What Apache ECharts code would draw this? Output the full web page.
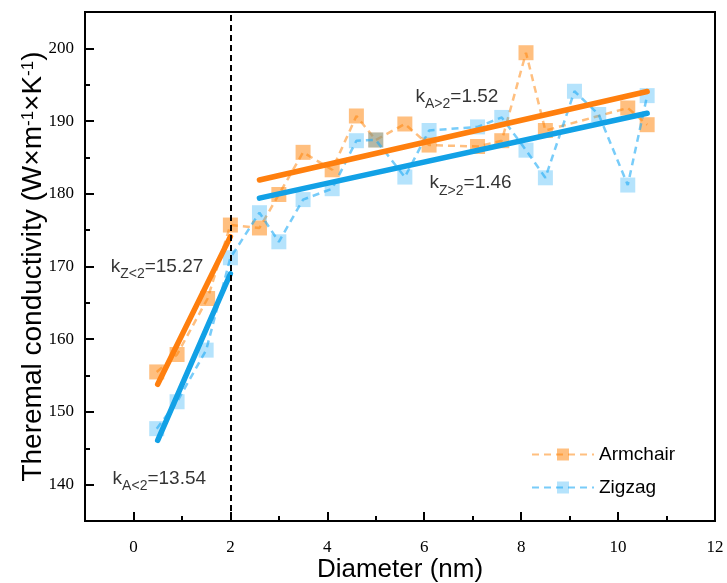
<!DOCTYPE html>
<html>
<head>
<meta charset="utf-8">
<script src="https://cdn.jsdelivr.net/npm/echarts@6/dist/echarts.min.js"></script>
<style>
  html, body { margin: 0; padding: 0; background: #fff; }
  #chart { width: 727px; height: 583px; }
</style>
</head>
<body>
<div id="chart"></div>
<script>
// Thermal conductivity vs. diameter, armchair and zigzag tubes
const armchairX = [0.48, 0.9, 1.53, 2.0, 2.6, 3.0, 3.5, 4.1, 4.6, 5.0, 5.6, 6.1, 7.1, 7.6, 8.1, 8.5, 10.2, 10.6];
const armchairY = [155.5, 157.9, 165.6, 175.7, 175.3, 179.9, 185.7, 183.3, 190.7, 187.4, 189.6, 186.7, 186.5, 187.3, 199.4, 188.7, 191.8, 189.5];

const zigzagX = [0.48, 0.9, 1.5, 2.0, 2.6, 3.0, 3.5, 4.1, 4.6, 5.0, 5.6, 6.1, 7.1, 7.6, 8.1, 8.5, 9.1, 9.6, 10.2, 10.6];
const zigzagY = [147.7, 151.4, 158.5, 171.2, 177.4, 173.4, 179.2, 180.7, 187.3, 187.4, 182.3, 188.7, 189.2, 190.5, 186.0, 182.2, 194.1, 190.9, 181.2, 193.5];

// Linear fits: slope k over each diameter range
const fitSeriesName = ['Armchair', 'Zigzag', 'Armchair', 'Zigzag'];
const fitSub = ['A<2', 'Z<2', 'A>2', 'Z>2'];
const fitSlopes = [13.54, 15.27, 1.52, 1.46];
const fitX0 = [0.5, 0.5, 2.6, 2.6];
const fitX1 = [2.0, 2.0, 10.6, 10.6];
const fitY0 = [153.8, 146.1, 181.9, 179.4];

// Tick values
const xMajor = [0, 2, 4, 6, 8, 10, 12];
const xMinor = [1, 3, 5, 7, 9, 11];
const yMajor = [140, 150, 160, 170, 180, 190, 200];
const yMinor = [145, 155, 165, 175, 185, 195];

// Where each slope note is anchored (data coordinates, left-middle of the text)
const noteX = [-0.43, -0.47, 5.82, 6.11];
const noteY = [140.78, 169.85, 193.34, 181.39];

const boundary = 2;

const ORANGE = '#ff7f0e';
const BLUE = '#12a1e6';
const ORANGE_SOFT = 'rgba(255,128,0,0.5)';
const BLUE_SOFT = 'rgba(30,170,245,0.33)';
const BLUE_LINE = 'rgba(30,170,245,0.6)';

const zip = (xs, ys) => xs.map((x, i) => [x, ys[i]]);

const sans = 'Liberation Sans, Arial, sans-serif';
const serif = 'Liberation Serif, Times New Roman, serif';

const dataSeries = [
  {
    name: 'Armchair', type: 'line', data: zip(armchairX, armchairY),
    symbol: 'rect', symbolSize: 15,
    itemStyle: { color: ORANGE_SOFT },
    lineStyle: { color: ORANGE_SOFT, width: 2.5, type: [7, 5] },
    z: 2
  },
  {
    name: 'Zigzag', type: 'line', data: zip(zigzagX, zigzagY),
    symbol: 'rect', symbolSize: 15,
    itemStyle: { color: BLUE_SOFT },
    lineStyle: { color: BLUE_LINE, width: 2.5, type: [7, 5] },
    z: 3
  }
];

const fitSeries = fitSlopes.map((k, i) => ({
  type: 'line',
  name: 'fit ' + fitSub[i],
  data: [[fitX0[i], fitY0[i]], [fitX1[i], fitY0[i] + k * (fitX1[i] - fitX0[i])]],
  symbol: 'none',
  silent: true,
  lineStyle: { color: fitSeriesName[i] === 'Armchair' ? ORANGE : BLUE, width: 5.5, cap: 'round' },
  z: 4
}));

const noteSeries = {
  type: 'scatter',
  name: 'notes',
  symbolSize: 0,
  silent: true,
  z: 5,
  data: fitSub.map((s, i) => ({ value: [noteX[i], noteY[i]], idx: i })),
  label: {
    show: true,
    position: 'right',
    distance: 0,
    formatter: p => {
      const i = p.data.idx;
      return '{k|k}{s|' + fitSub[i] + '}{k|=' + fitSlopes[i].toFixed(2) + '}';
    },
    rich: {
      k: { fontFamily: sans, fontSize: 19, color: '#000', lineHeight: 20, verticalAlign: 'top' },
      s: { fontFamily: sans, fontSize: 14, color: '#000', lineHeight: 16, verticalAlign: 'top', padding: [10, 0, 0, 0] }
    }
  }
};

const boundarySeries = {
  type: 'line',
  name: 'boundary',
  data: [],
  silent: true,
  markLine: {
    silent: true,
    symbol: 'none',
    label: { show: false },
    lineStyle: { color: '#000', type: [6, 4], width: 2 },
    data: [{ xAxis: boundary }]
  },
  z: 1
};

const tickLine = { color: '#000', width: 2 };

const option = {
  animation: false,
  backgroundColor: '#fff',
  grid: {
    left: 85, right: 12, top: 12, bottom: 62,
    show: true, borderColor: '#000', borderWidth: 2,
    containLabel: false, outerBoundsMode: 'none'
  },
  legend: {
    data: ['Armchair', 'Zigzag'],
    orient: 'vertical',
    left: 526, top: 440,
    itemWidth: 62, itemHeight: 15, itemGap: 14,
    textStyle: { fontFamily: sans, fontSize: 19, color: '#000' }
  },
  xAxis: [
    {
      type: 'value', min: -1, max: 12, position: 'bottom',
      name: 'Diameter (nm)', nameLocation: 'middle', nameGap: 36, nameMoveOverlap: false,
      nameTextStyle: { fontFamily: sans, fontSize: 26, color: '#000' },
      axisLine: { onZero: false, lineStyle: tickLine },
      axisTick: { inside: true, length: 9, lineStyle: tickLine, customValues: xMajor },
      axisLabel: { customValues: xMajor, margin: 18, fontFamily: serif, fontSize: 17, color: '#000' },
      splitLine: { show: false }
    },
    {
      type: 'value', min: -1, max: 12, position: 'bottom',
      axisLine: { show: false, onZero: false },
      axisTick: { inside: true, length: 5, lineStyle: tickLine, customValues: xMinor },
      axisLabel: { show: false },
      splitLine: { show: false }
    }
  ],
  yAxis: [
    {
      type: 'value', min: 135, max: 205, position: 'left',
      name: '{t|Theremal conductivity (W×m}{p|-1}{t|×K}{p|-1}{t|)}',
      nameLocation: 'middle', nameGap: 38, nameMoveOverlap: false,
      nameTextStyle: {
        rich: {
          t: { fontFamily: sans, fontSize: 28, color: '#000', lineHeight: 28, verticalAlign: 'top' },
          p: { fontFamily: sans, fontSize: 17, color: '#000', lineHeight: 17, verticalAlign: 'top', padding: [1, 0, 0, 0] }
        }
      },
      axisLine: { onZero: false, lineStyle: tickLine },
      axisTick: { inside: true, length: 9, lineStyle: tickLine, customValues: yMajor },
      axisLabel: { customValues: yMajor, margin: 11, fontFamily: serif, fontSize: 17, color: '#000' },
      splitLine: { show: false }
    },
    {
      type: 'value', min: 135, max: 205, position: 'left',
      axisLine: { show: false, onZero: false },
      axisTick: { inside: true, length: 5, lineStyle: tickLine, customValues: yMinor },
      axisLabel: { show: false },
      splitLine: { show: false }
    }
  ],
  series: [boundarySeries, ...dataSeries, ...fitSeries, noteSeries]
};

const chart = echarts.init(document.getElementById('chart'), null, { renderer: 'canvas' });
chart.setOption(option);
</script>
</body>
</html>
